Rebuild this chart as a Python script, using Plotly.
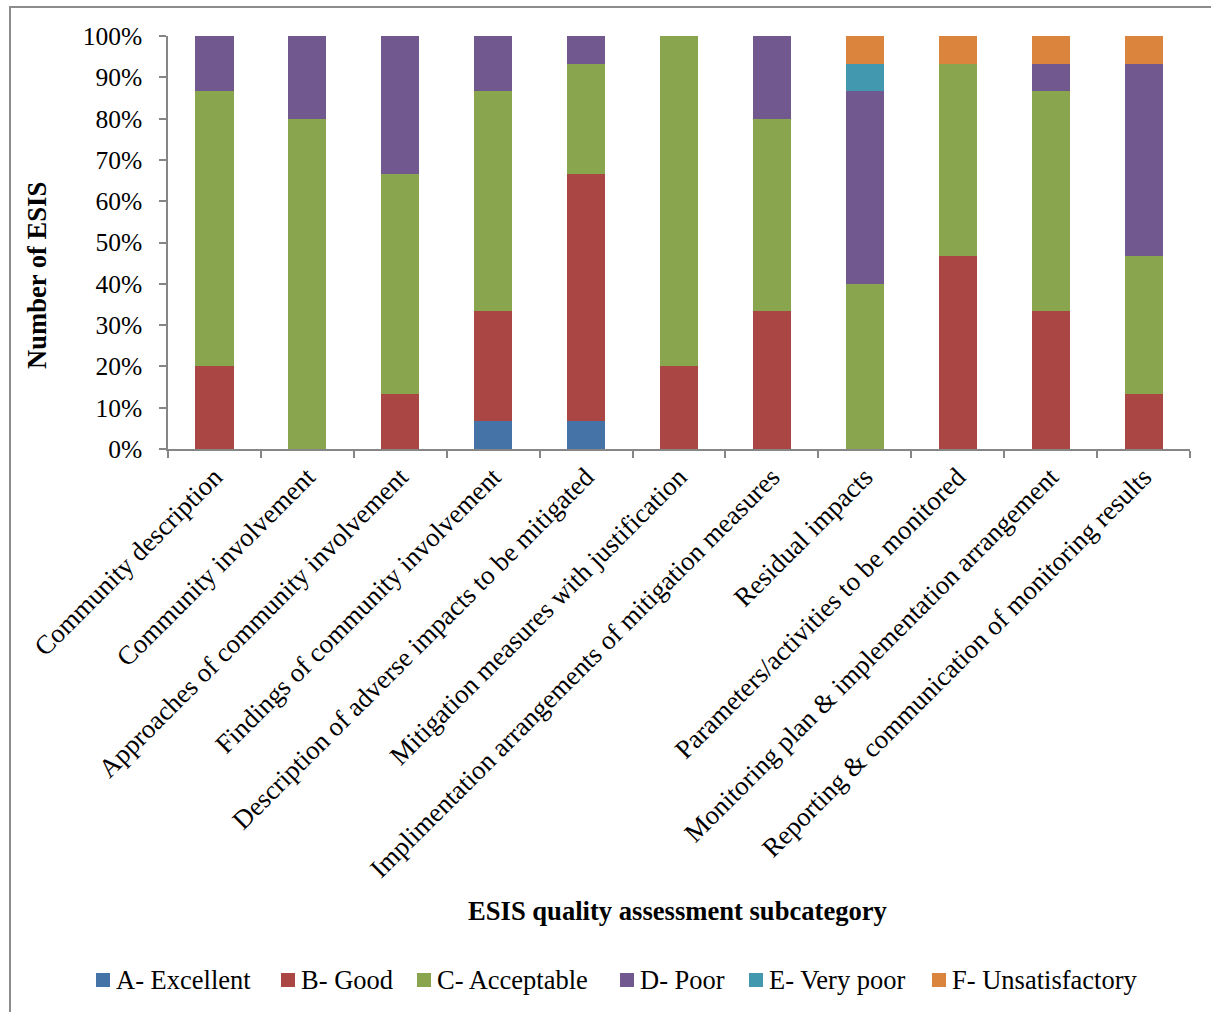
import plotly.graph_objects as go

categories = [
    "Community description",
    "Community involvement",
    "Approaches of community involvement",
    "Findings of community involvement",
    "Description of adverse impacts to be mitigated",
    "Mitigation measures with justification",
    "Implimentation arrangements of mitigation measures",
    "Residual impacts",
    "Parameters/activities to be monitored",
    "Monitoring plan & implementation arrangement",
    "Reporting & communication of monitoring results",
]

# number of ESIS (out of 15) per grade
grade_a = [0, 0, 0, 1, 1, 0, 0, 0, 0, 0, 0]
grade_b = [3, 0, 2, 4, 9, 3, 5, 0, 7, 5, 2]
grade_c = [10, 12, 8, 8, 4, 12, 7, 6, 7, 8, 5]
grade_d = [2, 3, 5, 2, 1, 0, 3, 7, 0, 1, 7]
grade_e = [0, 0, 0, 0, 0, 0, 0, 1, 0, 0, 0]
grade_f = [0, 0, 0, 0, 0, 0, 0, 1, 1, 1, 1]

series_names = ["A- Excellent", "B- Good", "C- Acceptable", "D- Poor", "E- Very poor", "F- Unsatisfactory"]
series_values = [grade_a, grade_b, grade_c, grade_d, grade_e, grade_f]
colors = ["#4572A7", "#AA4643", "#89A54E", "#71588F", "#4198AF", "#DB843D"]

FONT = "Liberation Serif, Times New Roman, serif"
AX = "#868686"

fig = go.Figure()
for name, vals, col in zip(series_names, series_values, colors):
    fig.add_trace(go.Bar(
        x=categories, y=vals, name=name,
        marker=dict(color=col, line=dict(width=0)),
        width=0.41, showlegend=False,
    ))

W, H = 1211, 1012
L, R, T, B = 168, 1190, 36, 449


def px_x(p):
    return (p - L) / (R - L)


def px_y(p):
    return (B - p) / (B - T)


annotations = [
    dict(text="<b>ESIS quality assessment subcategory</b>", xref="paper", yref="paper",
         x=px_x(678), y=px_y(911), xanchor="center", yanchor="middle",
         showarrow=False, font=dict(family=FONT, size=26.6)),
    dict(text="<b>Number of ESIS</b>", xref="paper", yref="paper",
         x=px_x(37), y=px_y(276), xanchor="center", yanchor="middle",
         textangle=-90, showarrow=False, font=dict(family=FONT, size=26.6)),
]
shapes = [
    dict(type="rect", xref="paper", yref="paper",
         x0=px_x(10), x1=px_x(1216), y0=px_y(1016), y1=px_y(7),
         line=dict(color="#8C8C8C", width=2), fillcolor="rgba(0,0,0,0)", layer="below"),
]

# manual legend (one row, as in the reference)
legend_marker_x = [96, 281, 417, 620, 749, 932]
legend_y = 980
for name, col, mx in zip(series_names, colors, legend_marker_x):
    shapes.append(dict(type="rect", xref="paper", yref="paper",
                       x0=px_x(mx), x1=px_x(mx + 14), y0=px_y(legend_y + 7), y1=px_y(legend_y - 7),
                       line=dict(width=0), fillcolor=col))
    annotations.append(dict(text=name, xref="paper", yref="paper",
                            x=px_x(mx + 18), y=px_y(legend_y), xanchor="left", yanchor="middle",
                            showarrow=False, font=dict(family=FONT, size=26.5)))

fig.update_layout(
    width=W, height=H,
    barmode="stack", barnorm="percent",
    paper_bgcolor="white", plot_bgcolor="white",
    margin=dict(l=L, r=W - R, t=T, b=H - B, autoexpand=False),
    font=dict(family=FONT, size=25, color="black"),
    showlegend=False,
    xaxis=dict(
        tickangle=-45, tickfont=dict(family=FONT, size=26.7),
        showline=True, linecolor=AX, linewidth=1.5,
        ticks="outside", tickson="boundaries", ticklen=7, tickcolor=AX, tickwidth=1.5,
        showgrid=False, fixedrange=True,
    ),
    yaxis=dict(
        range=[0, 100], dtick=10, ticksuffix="%",
        tickfont=dict(family=FONT, size=25.5), ticklabelstandoff=12,
        showline=True, linecolor=AX, linewidth=1.5,
        ticks="outside", ticklen=7, tickcolor=AX, tickwidth=1.5,
        showgrid=False, zeroline=False,
    ),
    annotations=annotations,
    shapes=shapes,
)

fig.write_html("out.html")
